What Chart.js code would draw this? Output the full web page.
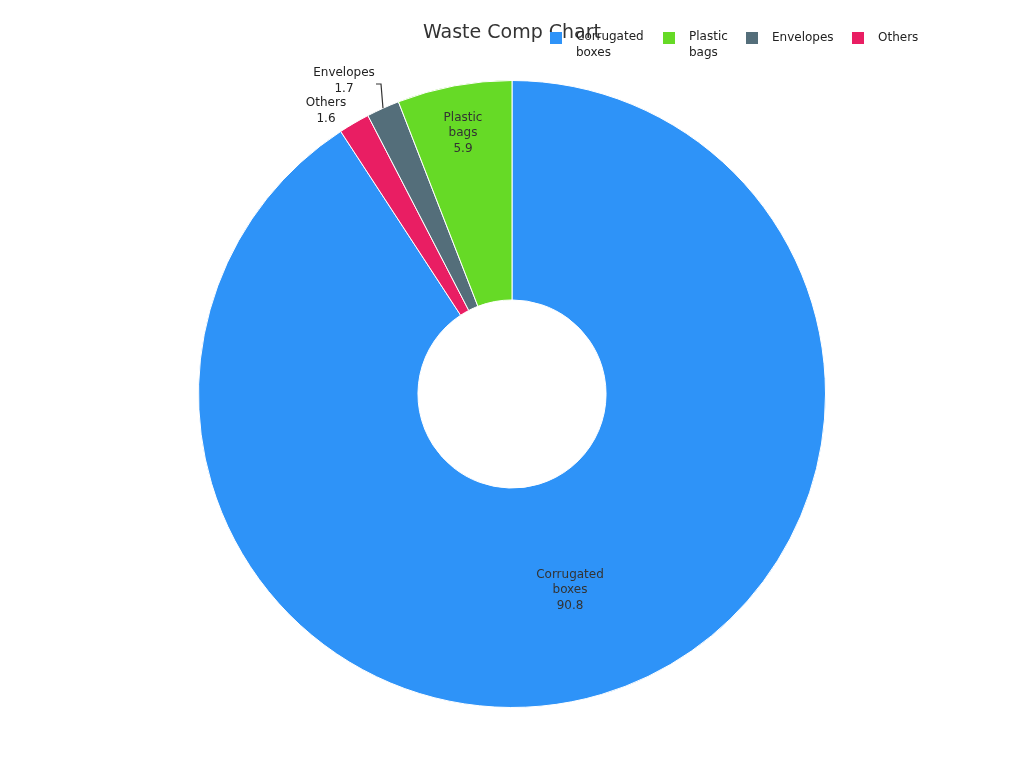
<!DOCTYPE html>
<html><head><meta charset="utf-8">
<script src="https://cdn.jsdelivr.net/npm/chart.js@4"></script>
<style>html,body{margin:0;background:#fff}#w{width:1024px;height:768px}</style>
</head><body><div id="w"><canvas id="c"></canvas></div>
<script>
const categories = ["Corrugated boxes", "Plastic bags", "Envelopes", "Others"];
const values = [90.8, 5.9, 1.7, 1.6];
const colors = ["#2e93f8", "#66da26", "#546e7a", "#e91e63"];
// draw order clockwise from top
const order = [0, 3, 2, 1];
const FONT = "DejaVu Sans";

const overlay = {
  id: "overlay",
  afterDraw(chart) {
    const ctx = chart.ctx;
    ctx.save();
    ctx.fillStyle = "#333";
    ctx.font = "19px " + FONT;
    ctx.textAlign = "center"; ctx.textBaseline = "middle";
    ctx.fillText("Waste Comp Chart", 512, 33);
    // legend
    const lx = [550, 663, 746, 852];
    ctx.font = "12px " + FONT; ctx.textAlign = "left";
    categories.forEach((c, i) => {
      ctx.fillStyle = colors[i];
      ctx.fillRect(lx[i], 32, 12, 12);
      ctx.fillStyle = "#222";
      const words = c.split(" ");
      if (words.length > 1) {
        ctx.fillText(words[0], lx[i] + 26, 37);
        ctx.fillText(words.slice(1).join(" "), lx[i] + 26, 53);
      } else ctx.fillText(c, lx[i] + 26, 38);
    });
    // slice labels
    const meta = chart.getDatasetMeta(0);
    ctx.font = "12px " + FONT; ctx.textAlign = "center";
    meta.data.forEach((arc, k) => {
      const i = order[k];
      const mid = (arc.startAngle + arc.endAngle) / 2;
      const lines = categories[i].split(" ").concat([String(values[i])]);
      let x, y;
      if (values[i] > 5) {
        const r = (arc.innerRadius + arc.outerRadius) / 2;
        x = arc.x + Math.cos(mid) * r; y = arc.y + Math.sin(mid) * r;
        if (i === 0) { x = 570; y = 590; }
        if (i === 1) { x = 463; y = 133; }
        ctx.fillStyle = "#333";
      } else {
        ctx.fillStyle = "#222";
        if (i === 2) {
          ctx.strokeStyle = "#333"; ctx.lineWidth = 1.2;
          const px = arc.x + Math.cos(mid) * arc.outerRadius, py = arc.y + Math.sin(mid) * arc.outerRadius;
          ctx.beginPath(); ctx.moveTo(px, py); ctx.lineTo(381, 84); ctx.lineTo(376, 84); ctx.stroke();
          x = 344; y = 81;
        } else { x = 326; y = 111; }
      }
      const h = 15.5;
      lines.forEach((t, j) => ctx.fillText(t, x, y + (j - (lines.length - 1) / 2) * h));
    });
    ctx.restore();
  }
};

new Chart(document.getElementById("c"), {
  type: "doughnut",
  data: {
    labels: order.map(i => categories[i]),
    datasets: [{
      data: order.map(i => values[i]),
      backgroundColor: order.map(i => colors[i]),
      borderColor: "#fff", borderWidth: 1
    }]
  },
  options: {
    responsive: true, maintainAspectRatio: false, animation: false,
    cutout: "30%",
    layout: { padding: { top: 80, bottom: 60 } },
    plugins: { legend: { display: false }, title: { display: false }, tooltip: { enabled: false } }
  },
  plugins: [overlay]
});
</script></body></html>
